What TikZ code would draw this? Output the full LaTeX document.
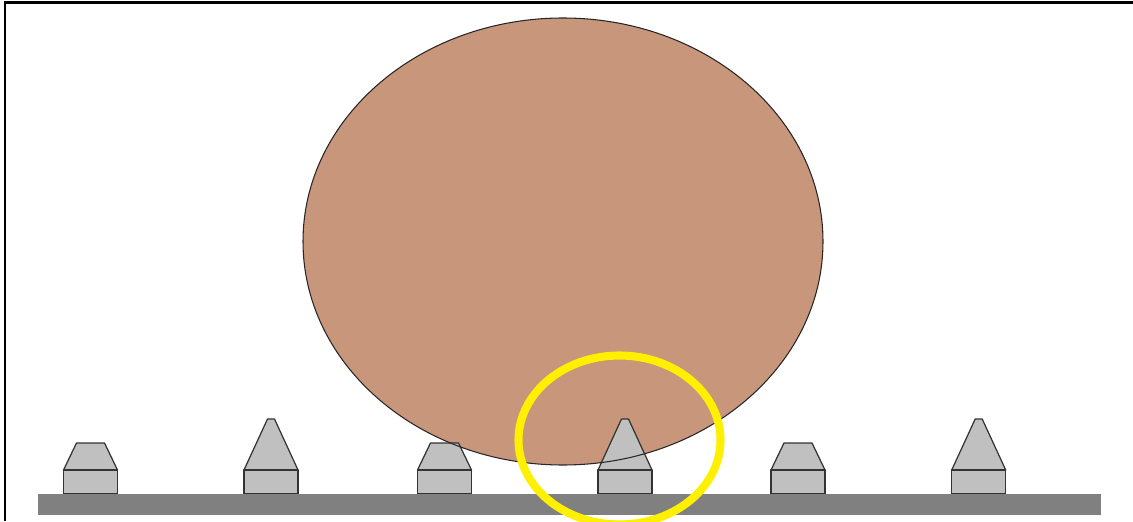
\documentclass[tikz,border=0pt]{standalone}
\definecolor{ballbrown}{RGB}{200,150,122}
\definecolor{postgray}{RGB}{192,192,192}
\definecolor{bargray}{RGB}{128,128,128}
\definecolor{ringyellow}{RGB}{255,240,0}
\tikzset{
  postpart/.style={fill=postgray, draw=black!80, line width=0.35pt, line join=round},
  ball/.style={fill=ballbrown},
  ballline/.style={draw=black!85, line width=0.3pt},
  ring/.style={draw=ringyellow, line width=2.3pt},
  frameline/.style={draw=black, line width=0.75pt},
}
\begin{document}
\begin{tikzpicture}[x=0.01cm, y=-0.01cm]
\useasboundingbox (0,0) rectangle (1133,521);
\begin{scope}
\clip (0,0) rectangle (1133,521);
% frame (top and left edges visible)
\draw[frameline] (5,521) -- (5,2.5) -- (1140,2.5);
% ball fill
\fill[ball] (563,241.5) ellipse [x radius=260, y radius=223.5];
% posts
\foreach \cx/\tw in {90.5/14, 271/3.5, 444.5/14, 625/3.5, 798/14, 978.7/3.5}{
  \pgfmathsetmacro{\topy}{\tw>10 ? 443 : 419}
  \draw[postpart] (\cx-27,470) -- (\cx-\tw,\topy) -- (\cx+\tw,\topy) -- (\cx+27,470) -- cycle;
  \draw[postpart] (\cx-27,470) rectangle (\cx+27,494);
}
% ball outline
\draw[ballline] (563,241.5) ellipse [x radius=260, y radius=223.5];
% ground bar
\fill[bargray] (38,494) rectangle (1101,514.5);
% highlight ring
\draw[ring] (619.5,440) ellipse [x radius=101, y radius=84.5];
\end{scope}
\end{tikzpicture}
\end{document}
